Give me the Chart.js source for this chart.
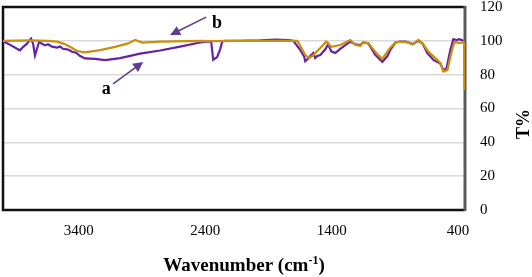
<!DOCTYPE html>
<html>
<head>
<meta charset="utf-8">
<script src="https://cdn.jsdelivr.net/npm/chart.js@4"></script>
<style>
  html, body { margin: 0; padding: 0; background: #fff; }
  canvas { display: block; }
</style>
</head>
<body>
<canvas id="ftir-chart" width="532" height="277"></canvas>
<script>
// spectrum a (purple)
const wavenumberA = [4000, 3960, 3929, 3889, 3865, 3842, 3810, 3778, 3762, 3747, 3731, 3715, 3691, 3667, 3644, 3612,
    3572, 3549, 3525, 3485, 3454, 3422, 3390, 3351, 3272, 3192,
    3074, 2915, 2757, 2599, 2440, 2377, 2353, 2337, 2306, 2282, 2266, 2250, 2123, 1965, 1846, 1743, 1704, 1688,
    1648, 1617, 1609, 1585, 1569, 1545, 1530, 1514, 1490, 1450, 1427, 1403, 1371, 1332, 1292, 1252, 1213, 1173,
    1150, 1110, 1055, 999, 959, 936, 896, 857, 817, 777, 762, 714, 682, 643, 595, 540, 516, 492, 461, 437, 413, 389, 358];
const transmA = [99.9, 98.3, 97, 95.3, 94.4, 96.3, 98.3, 101.3, 98.3, 91.4, 95.3, 99.3, 98.3, 97.3, 98, 96.6,
    96, 96.6, 95.3, 94.8, 93.5, 93, 91, 89.6, 89.3, 88.6,
    89.8, 92.4, 94.3, 96.6, 99, 99.6, 99.5, 88.8, 90.4, 95, 99.5, 100, 100, 100.3, 100.8, 100.5, 100, 98.5,
    94.6, 90.6, 88, 89.5, 91, 92.8, 89.8, 91, 91.6, 95, 98, 93.8, 92.8, 95.2, 97.5, 99.5, 98, 97.5,
    99, 98.5, 91.7, 87.6, 91, 94.6, 99, 99.5, 99.5, 98.7, 98, 100, 98.5, 92.8, 88.7, 86.6, 82.7, 83.5, 94.6, 101, 100.5, 101, 100];

// spectrum b (gold)
const wavenumberB = [4000, 3786, 3644, 3572, 3517, 3470, 3414, 3351, 3232, 3113, 3010, 2955, 2899, 2757, 2440, 2337, 2123,
    1965, 1743, 1672, 1648, 1609, 1577, 1545, 1490, 1443, 1403, 1332, 1252, 1213, 1173, 1150, 1110, 1055, 999,
    959, 936, 896, 857, 793, 762, 714, 682, 635, 579, 540, 516, 484, 461, 437, 421, 397, 366, 352, 349];
const transmB = [100, 100.3, 100, 99.5, 98.2, 96.5, 94, 93.2, 94.5, 96.4, 98.5, 100.5, 99, 99.5, 100, 99.8, 100,
    100, 100, 100, 97, 91.6, 89.8, 91.6, 95.7, 99.5, 96.5, 97.5, 100.5, 97.5, 97, 99, 98.5, 93.6, 89.3,
    93.6, 96, 99, 99.5, 99, 97.8, 100.5, 98.5, 93.6, 89.8, 87, 81.8, 82.7, 90.4, 97.5, 99.5, 98.7, 99, 99, 71];

const xTicks = [3400, 2400, 1400, 400];

// arrow labels, in data units
const arrowLabels = [
    { text: 'a', x: 3184, y: 71.5, fromX: 3129, fromY: 74.5, toX: 2891, toY: 87.5 },
    { text: 'b', x: 2306, y: 110.5, fromX: 2393, fromY: 114, toX: 2678, toY: 103.4 }
];

const toPoints = (xs, ys) => xs.map((x, i) => ({ x: x, y: ys[i] }));

const serif = "'Liberation Serif', 'Times New Roman', serif";

const framePlugin = {
    id: 'frame',
    beforeDatasetsDraw(chart) {
        const { ctx, chartArea: a } = chart;
        ctx.save();
        ctx.strokeStyle = '#111';
        ctx.lineWidth = 2.5;
        ctx.beginPath();
        ctx.moveTo(a.right, a.top);
        ctx.lineTo(a.left, a.top);
        ctx.lineTo(a.left, a.bottom);
        ctx.lineTo(a.right, a.bottom);
        ctx.stroke();
        ctx.strokeStyle = '#5a5a5a';
        ctx.lineWidth = 3;
        ctx.beginPath();
        ctx.moveTo(a.right, a.top - 1);
        ctx.lineTo(a.right, a.bottom + 1);
        ctx.stroke();
        ctx.restore();
    },
    afterDraw(chart) {
        const { ctx } = chart;
        const xs = chart.scales.x, ys = chart.scales.y;
        ctx.save();

        // arrows + letters
        arrowLabels.forEach(l => {
            const x1 = xs.getPixelForValue(l.fromX), y1 = ys.getPixelForValue(l.fromY);
            const x2 = xs.getPixelForValue(l.toX), y2 = ys.getPixelForValue(l.toY);
            const ang = Math.atan2(y2 - y1, x2 - x1);
            const headLen = 10, headW = 5;
            ctx.strokeStyle = '#5b3f8e';
            ctx.fillStyle = '#5b3f8e';
            ctx.lineWidth = 1.6;
            ctx.beginPath();
            ctx.moveTo(x1, y1);
            ctx.lineTo(x2 - Math.cos(ang) * headLen * 0.8, y2 - Math.sin(ang) * headLen * 0.8);
            ctx.stroke();
            ctx.beginPath();
            ctx.moveTo(x2, y2);
            ctx.lineTo(x2 - Math.cos(ang) * headLen - Math.sin(ang) * headW, y2 - Math.sin(ang) * headLen + Math.cos(ang) * headW);
            ctx.lineTo(x2 - Math.cos(ang) * headLen + Math.sin(ang) * headW, y2 - Math.sin(ang) * headLen - Math.cos(ang) * headW);
            ctx.closePath();
            ctx.fill();

            ctx.fillStyle = '#000';
            ctx.font = 'bold 18px ' + serif;
            ctx.textAlign = 'center';
            ctx.textBaseline = 'middle';
            ctx.fillText(l.text, xs.getPixelForValue(l.x), ys.getPixelForValue(l.y));
        });

        // x title with superscript
        ctx.fillStyle = '#000';
        ctx.textBaseline = 'alphabetic';
        ctx.textAlign = 'left';
        const main = 'Wavenumber (cm', sup = '-1', close = ')';
        const bigFont = 'bold 19px ' + serif, supFont = 'bold 12px ' + serif;
        ctx.font = bigFont;
        const w1 = ctx.measureText(main).width, w3 = ctx.measureText(close).width;
        ctx.font = supFont;
        const w2 = ctx.measureText(sup).width;
        let tx = 244 - (w1 + w2 + w3) / 2;
        const base = 271;
        ctx.font = bigFont;
        ctx.fillText(main, tx, base);
        ctx.font = supFont;
        ctx.fillText(sup, tx + w1, base - 7);
        ctx.font = bigFont;
        ctx.fillText(close, tx + w1 + w2, base);

        // y title, reading bottom to top
        ctx.translate(524, 124);
        ctx.rotate(-Math.PI / 2);
        ctx.textAlign = 'center';
        ctx.textBaseline = 'middle';
        ctx.font = 'bold 18px ' + serif;
        ctx.fillText('T%', 0, 0);
        ctx.restore();
    }
};

const config = {
    type: 'scatter',
    data: {
        datasets: [{
            label: 'a',
            data: toPoints(wavenumberA, transmA),
            showLine: true,
            borderColor: '#6422a6',
            backgroundColor: '#6422a6',
            borderWidth: 2.2,
            pointRadius: 0,
            order: 2
        }, {
            label: 'b',
            data: toPoints(wavenumberB, transmB),
            showLine: true,
            borderColor: '#c8900c',
            backgroundColor: '#c8900c',
            borderWidth: 2.2,
            pointRadius: 0,
            order: 1
        }]
    },
    options: {
        responsive: false,
        animation: false,
        layout: { padding: { left: 3, top: 7, right: 0, bottom: 0 } },
        plugins: {
            legend: { display: false },
            tooltip: { enabled: false }
        },
        scales: {
            x: {
                type: 'linear',
                reverse: true,
                min: 345,
                max: 4000,
                afterBuildTicks: scale => { scale.ticks = xTicks.map(v => ({ value: v })); },
                afterFit: scale => {
                    scale.height = 67;
                    scale.paddingLeft = 0;
                    scale.paddingRight = 0;
                },
                grid: { display: false, drawTicks: false },
                border: { display: false },
                ticks: {
                    padding: 12,
                    color: '#000',
                    maxRotation: 0,
                    callback: v => String(v),
                    font: { family: serif, size: 15 }
                }
            },
            y: {
                position: 'right',
                min: 0,
                max: 120,
                afterFit: scale => {
                    scale.width = 67;
                    scale.paddingTop = 0;
                    scale.paddingBottom = 0;
                },
                grid: { color: '#dadada', lineWidth: 1.5, drawTicks: false },
                border: { display: false },
                ticks: {
                    stepSize: 20,
                    padding: 15,
                    color: '#000',
                    font: { family: serif, size: 15 }
                }
            }
        }
    },
    plugins: [framePlugin]
};

const ctx = document.getElementById('ftir-chart').getContext('2d');
new Chart(ctx, config);
</script>
</body>
</html>
